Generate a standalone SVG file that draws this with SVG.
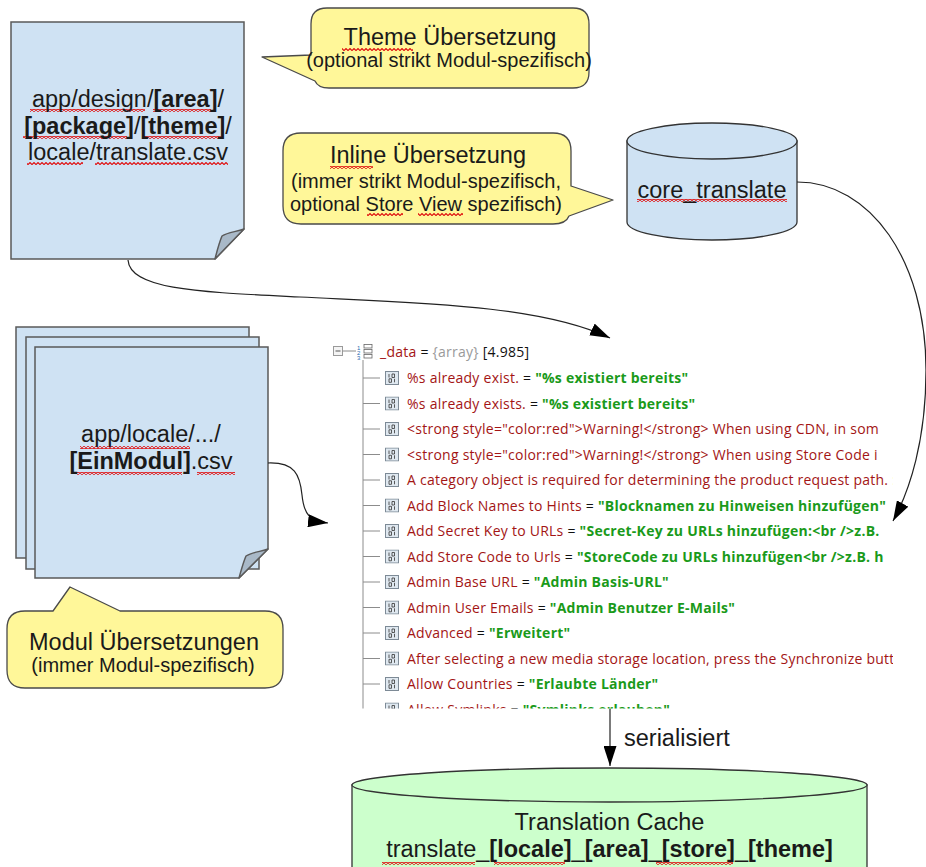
<svg xmlns="http://www.w3.org/2000/svg" xmlns:xlink="http://www.w3.org/1999/xlink" width="926" height="867" viewBox="0 0 926 867">
<style>
.doc{fill:#cfe2f3;stroke:#5a5a5a;stroke-width:1.5}
.flap{fill:#a9b9c8;stroke:#5a5a5a;stroke-width:1.5;stroke-linejoin:round}
.callout{fill:#fff799;stroke:#4a4a4a;stroke-width:1.3;stroke-linejoin:round}
.cylb{fill:#cfe2f3;stroke:#333;stroke-width:1.3}
.cylg{fill:#ccffcc;stroke:#333;stroke-width:1.3}
.lbl{font-family:"Liberation Sans",Arial,sans-serif;font-size:23.5px;fill:#1a1a1a;text-anchor:middle}
.sub{font-size:20px}
.b{font-weight:bold}
.conn{fill:none;stroke:#222;stroke-width:1.2;marker-end:url(#arr)}
.wavy{fill:url(#wv)}
.tree{font-family:"Open Sans","Noto Sans",sans-serif;font-size:14px;letter-spacing:0.25px}
.k{fill:#a31515}
.eq{fill:#111}
.v{fill:#1a9a1a;font-weight:bold}
.gr{fill:#9a9a9a}
.tl{stroke:#8c8c8c;stroke-width:1;fill:none}
</style>
<defs>
<marker id="arr" viewBox="0 0 20 13" refX="20" refY="6.5" markerWidth="20" markerHeight="13" markerUnits="userSpaceOnUse" orient="auto">
<path d="M0,0 L20,6.5 L0,13 Z" fill="#000"/>
</marker>
<pattern id="wv" x="0" y="0" width="4" height="3" patternUnits="userSpaceOnUse">
<path d="M-1,3.5 L0,2.5 L2,0.5 L4,2.5 L5,3.5" fill="none" stroke="#e01010" stroke-width="1.1"/>
</pattern>
<symbol id="ico" viewBox="0 0 14 14">
<rect x="0.5" y="0.5" width="13" height="13" fill="#dfe8f0" stroke="#7d8a96"/>
<path d="M4,3v3.5 M7,3h2.5v3.5h-2.5z M4,7.8h2.5v3.5h-2.5z M9.5,7.8v3.5" stroke="#333" stroke-width="0.8" fill="none"/>
</symbol>
<clipPath id="treeclip"><rect x="325" y="335" width="568" height="373.5"/></clipPath>
</defs>
<rect width="926" height="867" fill="#fff"/>

<g id="theme-file">
<path class="doc" d="M11,22 H244 V229 L215,259 H11 Z"/>
<path class="flap" d="M215,259 L244,229 C236,232 228,232 222,236 C219,243 217,251 215,259 Z"/>
<rect class="wavy" x="30" y="109" width="115" height="3"/>
<rect class="wavy" x="153" y="109" width="58" height="3"/>
<rect class="wavy" x="23" y="136" width="104" height="3"/>
<rect class="wavy" x="143" y="136" width="78" height="3"/>
<rect class="wavy" x="27" y="162" width="56" height="3"/>
<rect class="wavy" x="95" y="162" width="133" height="3"/>
<text class="lbl" x="128" y="107">app/design/<tspan class="b">[area]</tspan>/</text>
<text class="lbl" x="128" y="134"><tspan class="b">[package]</tspan>/<tspan class="b">[theme]</tspan>/</text>
<text class="lbl" x="128" y="160">locale/translate.csv</text>
</g>

<g id="theme-callout">
<path class="callout" d="M327,8 H573 Q589,8 589,24 V72 Q589,88 573,88 H329 Q318,88 315,81 L262,57 L311,55 V24 Q311,8 327,8 Z"/>
<rect class="wavy" x="342" y="48" width="71" height="3"/>
<text class="lbl" x="450" y="45">Theme Übersetzung</text>
<text class="lbl sub" x="449" y="67">(optional strikt Modul-spezifisch)</text>
</g>

<g id="inline-callout">
<path class="callout" d="M301,133 H553 Q571,133 571,151 V186 L613,200 L569,216 Q566,224 553,224 H301 Q283,224 283,206 V151 Q283,133 301,133 Z"/>
<rect class="wavy" x="330" y="166" width="43" height="3"/>
<rect class="wavy" x="367" y="213" width="36" height="3"/>
<rect class="wavy" x="418" y="213" width="45" height="3"/>
<text class="lbl" x="428" y="163">Inline Übersetzung</text>
<text class="lbl sub" x="426" y="188">(immer strikt Modul-spezifisch,</text>
<text class="lbl sub" x="426" y="211">optional Store View spezifisch)</text>
</g>

<g id="core-translate">
<path class="cylb" d="M627,141 V222 A85,18 0 0 0 797,222 V141 Z"/>
<ellipse class="cylb" cx="712" cy="141" rx="85" ry="18"/>
<rect class="wavy" x="637" y="199" width="150" height="3"/>
<text class="lbl" x="712" y="198">core_translate</text>
</g>

<g id="module-files">
<rect class="doc" x="16" y="327" width="233" height="231"/>
<rect class="doc" x="26" y="337" width="233" height="232"/>
<path class="doc" d="M35,347 H268 V549 L239,578 H35 Z"/>
<path class="flap" d="M239,578 L268,549 C260,552 252,552 246,556 C243,563 241,571 239,578 Z"/>
<rect class="wavy" x="80" y="446" width="110" height="3"/>
<rect class="wavy" x="75" y="472" width="107" height="3"/>
<rect class="wavy" x="197" y="472" width="38" height="3"/>
<text class="lbl" x="151" y="442">app/locale/.../</text>
<text class="lbl" x="151" y="469"><tspan class="b">[EinModul]</tspan>.csv</text>
</g>

<g id="module-callout">
<path class="callout" d="M25,611 H53 L70,587 L120,611 H265 Q283,611 283,629 V670 Q283,688 265,688 H25 Q7,688 7,670 V629 Q7,611 25,611 Z"/>
<text class="lbl" x="144" y="650">Modul Übersetzungen</text>
<text class="lbl sub" x="143" y="672">(immer Modul-spezifisch)</text>
</g>

<g id="data-tree" class="tree">
<rect x="333.5" y="346.5" width="9" height="9" fill="#f4f4f4" stroke="#9a9a9a"/>
<path d="M335.5,351 h5" stroke="#555" stroke-width="1"/>
<path class="tl" d="M342.5,351 H356"/>
<text x="357" y="350" font-family="Liberation Sans,sans-serif" font-size="6" letter-spacing="0" fill="#2a6bb0">1</text>
<text x="357" y="355" font-family="Liberation Sans,sans-serif" font-size="6" letter-spacing="0" fill="#2a6bb0">2</text>
<text x="357" y="360" font-family="Liberation Sans,sans-serif" font-size="6" letter-spacing="0" fill="#2a6bb0">3</text>
<rect x="364" y="344.5" width="8" height="3.5" fill="#fff" stroke="#666" stroke-width="0.8"/>
<rect x="364" y="349.5" width="8" height="3.5" fill="#fff" stroke="#666" stroke-width="0.8"/>
<rect x="364" y="354.5" width="8" height="3.5" fill="#fff" stroke="#666" stroke-width="0.8"/>
<text x="380" y="357"><tspan class="k">_data</tspan><tspan class="eq"> = </tspan><tspan class="gr">{array}</tspan><tspan class="eq"> [4.985]</tspan></text>
<g clip-path="url(#treeclip)">
<path class="tl" d="M363,360 V709 M363,378 H380 M363,403.5 H380 M363,429 H380 M363,454.5 H380 M363,480 H380 M363,505.5 H380 M363,531 H380 M363,556.5 H380 M363,582 H380 M363,607.5 H380 M363,633 H380 M363,658.5 H380 M363,684 H380 M363,709.5 H380"/>
<use xlink:href="#ico" x="385" y="371" width="14" height="14"/>
<use xlink:href="#ico" x="385" y="396.5" width="14" height="14"/>
<use xlink:href="#ico" x="385" y="422" width="14" height="14"/>
<use xlink:href="#ico" x="385" y="447.5" width="14" height="14"/>
<use xlink:href="#ico" x="385" y="473" width="14" height="14"/>
<use xlink:href="#ico" x="385" y="498.5" width="14" height="14"/>
<use xlink:href="#ico" x="385" y="524" width="14" height="14"/>
<use xlink:href="#ico" x="385" y="549.5" width="14" height="14"/>
<use xlink:href="#ico" x="385" y="575" width="14" height="14"/>
<use xlink:href="#ico" x="385" y="600.5" width="14" height="14"/>
<use xlink:href="#ico" x="385" y="626" width="14" height="14"/>
<use xlink:href="#ico" x="385" y="651.5" width="14" height="14"/>
<use xlink:href="#ico" x="385" y="677" width="14" height="14"/>
<use xlink:href="#ico" x="385" y="702.5" width="14" height="14"/>
<text x="407" y="383"><tspan class="k">%s already exist.</tspan><tspan class="eq"> = </tspan><tspan class="v">"%s existiert bereits"</tspan></text>
<text x="407" y="408.5"><tspan class="k">%s already exists.</tspan><tspan class="eq"> = </tspan><tspan class="v">"%s existiert bereits"</tspan></text>
<text x="407" y="434" class="k">&lt;strong style="color:red"&gt;Warning!&lt;/strong&gt; When using CDN, in som</text>
<text x="407" y="459.5" class="k">&lt;strong style="color:red"&gt;Warning!&lt;/strong&gt; When using Store Code i</text>
<text x="407" y="485" class="k">A category object is required for determining the product request path. :</text>
<text x="407" y="510.5"><tspan class="k">Add Block Names to Hints</tspan><tspan class="eq"> = </tspan><tspan class="v">"Blocknamen zu Hinweisen hinzufügen"</tspan></text>
<text x="407" y="536"><tspan class="k">Add Secret Key to URLs</tspan><tspan class="eq"> = </tspan><tspan class="v">"Secret-Key zu URLs hinzufügen:&lt;br /&gt;z.B.</tspan></text>
<text x="407" y="561.5"><tspan class="k">Add Store Code to Urls</tspan><tspan class="eq"> = </tspan><tspan class="v">"StoreCode zu URLs hinzufügen&lt;br /&gt;z.B. h</tspan></text>
<text x="407" y="587"><tspan class="k">Admin Base URL</tspan><tspan class="eq"> = </tspan><tspan class="v">"Admin Basis-URL"</tspan></text>
<text x="407" y="612.5"><tspan class="k">Admin User Emails</tspan><tspan class="eq"> = </tspan><tspan class="v">"Admin Benutzer E-Mails"</tspan></text>
<text x="407" y="638"><tspan class="k">Advanced</tspan><tspan class="eq"> = </tspan><tspan class="v">"Erweitert"</tspan></text>
<text x="407" y="663.5" class="k">After selecting a new media storage location, press the Synchronize butt</text>
<text x="407" y="689"><tspan class="k">Allow Countries</tspan><tspan class="eq"> = </tspan><tspan class="v">"Erlaubte Länder"</tspan></text>
<text x="407" y="714.5"><tspan class="k">Allow Symlinks</tspan><tspan class="eq"> = </tspan><tspan class="v">"Symlinks erlauben"</tspan></text>
</g>
</g>

<g id="translation-cache">
<path class="cylg" d="M352,785 V880 H867 V785 Z"/>
<ellipse class="cylg" cx="609.5" cy="785" rx="257.5" ry="17"/>
<rect class="wavy" x="382" y="862" width="93" height="3"/>
<rect class="wavy" x="494" y="862" width="71" height="3"/>
<rect class="wavy" x="656" y="862" width="77" height="3"/>
<text class="lbl" x="609.5" y="830">Translation Cache</text>
<text class="lbl" x="609.5" y="857">translate_<tspan class="b">[locale]</tspan>_<tspan class="b">[area]</tspan>_<tspan class="b">[store]</tspan>_<tspan class="b">[theme]</tspan></text>
</g>

<g id="connectors">
<path class="conn" d="M128,260 C130,290 200,292 300,297 C420,303 540,305 610,338"/>
<path class="conn" d="M797,182 C870,182 926,260 926,370 C926,440 910,490 893,521"/>
<path class="conn" d="M268,463 C295,462 300,475 302,495 C304,515 310,521 328,523"/>
<path class="conn" d="M610,709 L610,766"/>
<text class="lbl" x="624" y="746" style="text-anchor:start">serialisiert</text>
</g>
</svg>
